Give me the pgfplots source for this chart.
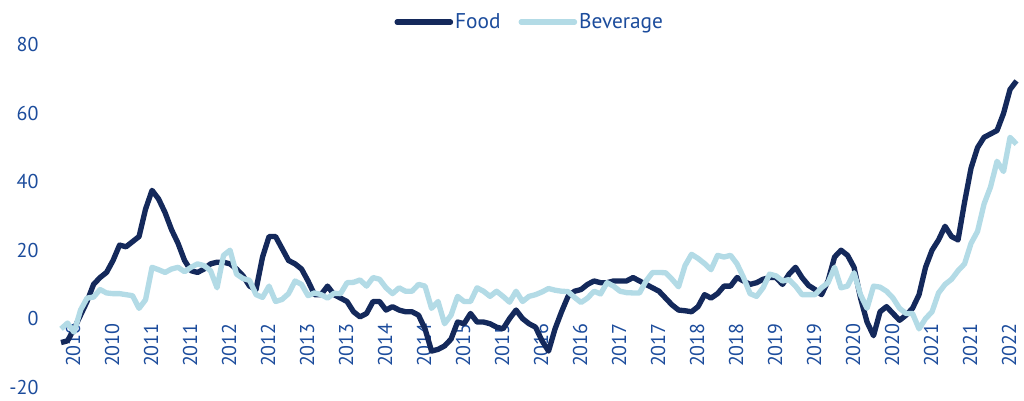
\documentclass[border=0pt]{standalone}
\usepackage{pgfplots}
\pgfplotsset{compat=1.18}
\usepackage{pgfplotstable}
\usepackage{fontspec}
\setmainfont{PT Sans}
\definecolor{foodc}{HTML}{14295B}
\definecolor{bevc}{HTML}{B3DBE6}
\definecolor{txtc}{HTML}{1C4C9C}

\pgfplotstableread{
i food bev
0 -7 -3
1 -6.5 -1.3
2 -3 -4
3 1 2.5
4 5 6
5 10 6.3
6 12 8.5
7 13.5 7.5
8 17 7.3
9 21.5 7.3
10 21 7
11 22.5 6.7
12 24 3
13 32 5.5
14 37.5 15
15 35 14.3
16 31 13.5
17 26 14.5
18 22 15
19 17 13.7
20 14 15
21 13.5 16
22 14.5 15.5
23 16 14
24 16.5 9
25 16.5 18.5
26 16 20
27 14.5 13
28 12.5 11.7
29 9.5 11.2
30 8.5 7
31 18 6.2
32 24 9.5
33 24 5
34 20.5 5.6
35 17 7.3
36 16 11
37 14.5 10
38 11 6.7
39 7 7.5
40 7 7
41 9.5 6
42 7 7.4
43 6 7.3
44 5 10.5
45 2 10.6
46 0.5 11.3
47 1.5 9.5
48 5 12
49 5 11.5
50 2.5 9
51 3.5 7.3
52 2.5 9
53 2 8
54 2 8
55 1 10
56 -3 9.5
57 -9.5 3
58 -9 5
59 -8 -1.5
60 -6 1
61 -1 6.5
62 -1.5 5
63 1.5 5
64 -1 9
65 -1 8
66 -1.5 6.5
67 -2.5 8
68 -3 6.5
69 0 4.8
70 2.5 8
71 0 5
72 -1.5 6.5
73 -2.5 7
74 -6.5 7.8
75 -9.5 8.8
76 -3 8.3
77 2 8
78 6.5 7.9
79 8 6.2
80 8.5 4.7
81 10 6
82 11 8
83 10.5 7.2
84 10.5 10.5
85 11 9.5
86 11 8
87 11 7.6
88 12 7.5
89 11 7.5
90 10 11
91 9 13.5
92 8 13.5
93 6 13.4
94 4 11.5
95 2.5 9.3
96 2.3 15.5
97 2 18.8
98 3.5 17.6
99 7 16.1
100 6 14.3
101 7.3 18.5
102 9.5 18
103 9.5 18.5
104 12 16
105 11 12
106 10 7.3
107 10.5 6.5
108 11.5 9
109 12 13
110 12 12.5
111 10 11
112 13 11.4
113 15 9.5
114 12 7
115 9.7 7
116 8.5 7
117 7 9
118 11 10.5
119 18 15
120 20 9
121 18.5 9.5
122 15 13.4
123 6 7
124 -1 3
125 -5 9.5
126 2 9.2
127 3.5 8
128 1.5 6
129 -0.5 3
130 1 1.5
131 3 1.5
132 7 -3
133 15 0
134 20 2
135 23 7.5
136 27 10
137 24 11.5
138 23 14
139 34 16
140 44 22
141 50 25.5
142 53 33.5
143 54 38.5
144 55 46
145 60 43
146 67 53
147 69.5 51
}\datatable

\begin{document}
\begin{tikzpicture}
\begin{axis}[
  scale only axis,
  width=724.9pt, height=256.5pt,
  xmin=-0.9, xmax=147.8,
  ymin=-20, ymax=80,
  axis x line*=middle,
  axis y line*=left,
  axis line style={draw=none},
  major tick length=0pt,
  tick style={draw=none},
  xtick={0,6,...,144},
  xticklabels={2010,2010,2011,2011,2012,2012,2013,2013,2014,2014,2015,2015,2016,2016,2017,2017,2018,2018,2019,2019,2020,2020,2021,2021,2022},
  ytick={-20,0,20,40,60,80},
  yticklabels={-20,0,20,40,60,80},
  xticklabel style={rotate=90, anchor=east, font=\fontsize{15pt}{17pt}\selectfont, text=txtc, yshift=-9pt},
  yticklabel style={font=\fontsize{15pt}{17pt}\selectfont, text=txtc, xshift=-9pt},
  clip=false,
  legend columns=2,
  legend style={at={(0.491,1.067)}, anchor=center, draw=none, fill=none,
    font=\fontsize{16pt}{18pt}\selectfont, text=txtc,
    nodes={inner sep=1.5pt},
    /tikz/every even column/.append style={column sep=12pt}},
  legend image code/.code={\draw[#1, line cap=round] (0pt,0pt) -- (40pt,0pt);},
]
\addplot[foodc, line width=4pt, line join=round] table[x=i, y=food] {\datatable};
\addlegendentry{Food}
\addplot[bevc, line width=4pt, line join=round] table[x=i, y=bev] {\datatable};
\addlegendentry{Beverage}
\end{axis}
\pgfresetboundingbox
\path[use as bounding box] (-41.4pt,-9.75pt) rectangle (726.6pt,290.25pt);
\end{tikzpicture}
\end{document}
